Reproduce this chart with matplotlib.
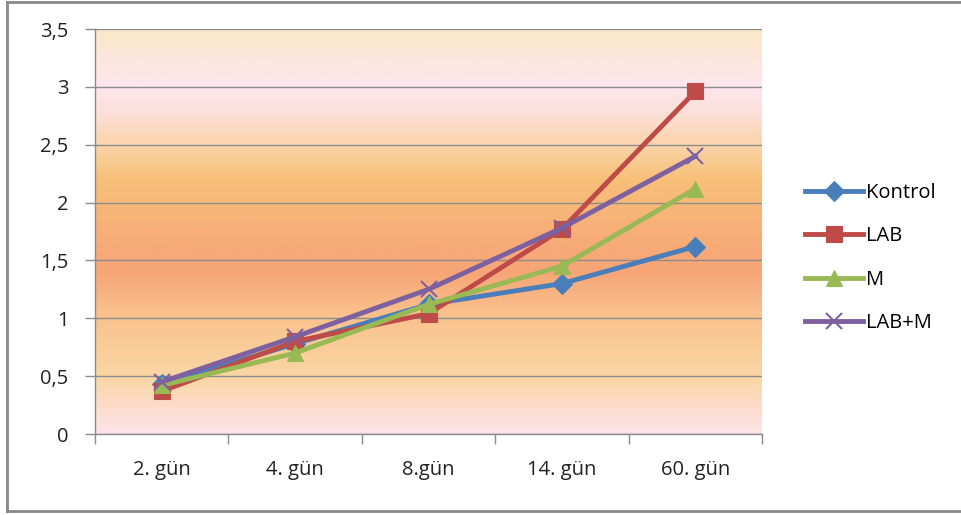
import numpy as np
import matplotlib
matplotlib.use('agg')
import matplotlib.pyplot as plt
from matplotlib.colors import LinearSegmentedColormap
from matplotlib.ticker import FuncFormatter, FixedLocator
from matplotlib.lines import Line2D

plt.rcParams['font.family'] = ['Open Sans', 'DejaVu Sans']
plt.rcParams['font.size'] = 14.5

days = ['2. gün', '4. gün', '8.gün', '14. gün', '60. gün']
kontrol = [0.43, 0.78, 1.12, 1.30, 1.62]
lab = [0.37, 0.80, 1.04, 1.77, 2.96]
m = [0.42, 0.70, 1.12, 1.45, 2.12]
lab_m = [0.45, 0.84, 1.25, 1.78, 2.40]

series = [
    ('Kontrol', kontrol, '#4A7EBB', 'D', 10),
    ('LAB', lab, '#BE4B48', 's', 12),
    ('M', m, '#98B954', '^', 12),
    ('LAB+M', lab_m, '#7D60A0', 'x', 12),
]

fig = plt.figure(figsize=(9.61, 5.15), dpi=100)
ax = fig.add_axes([95 / 961, 81 / 515, 667 / 961, 405 / 515])

# plot area gradient, bottom -> top
stops = [
    (0.00, '#FDE4E8'),
    (0.07, '#FCDCC8'),
    (0.14, '#FAD6A4'),
    (0.30, '#F9C08C'),
    (0.40, '#F7A577'),
    (0.50, '#F7AE78'),
    (0.63, '#F8C078'),
    (0.71, '#FAD3A8'),
    (0.80, '#FCE0DC'),
    (0.86, '#FDE6EE'),
    (0.93, '#FCE6DC'),
    (1.00, '#FBE8C8'),
]
cmap = LinearSegmentedColormap.from_list('bg', stops)
grad = np.linspace(0, 1, 256).reshape(-1, 1)
ax.imshow(grad, cmap=cmap, origin='lower', aspect='auto',
          extent=[-0.5, 4.5, 0, 3.5], zorder=0)

x = np.arange(len(days))
for name, vals, col, mk, ms in series:
    ax.plot(x, vals, color=col, lw=3.5, marker=mk, markersize=ms,
            markeredgewidth=1.5 if mk == 'x' else 0.8, markeredgecolor=col,
            label=name, zorder=3)

ax.set_xlim(-0.5, 4.5)
ax.set_ylim(0, 3.5)
ax.set_yticks(np.arange(0, 3.51, 0.5))
ax.yaxis.set_major_formatter(FuncFormatter(lambda v, p: ('%g' % v).replace('.', ',')))
ax.yaxis.grid(True, color='#8C8C8C', lw=1)
ax.set_axisbelow(False)
for gl in ax.get_ygridlines():
    gl.set_zorder(1)

ax.set_xticks(x)
ax.set_xticklabels(days)
ax.xaxis.set_minor_locator(FixedLocator(np.arange(-0.5, 4.6, 1)))
ax.tick_params(axis='x', which='major', length=0, pad=19, colors='#222222')
ax.tick_params(axis='x', which='minor', length=7, color='#8C8C8C', width=1)
ax.tick_params(axis='y', length=7, color='#8C8C8C', width=1, pad=12,
               labelcolor='#222222')

for s in ['top', 'right']:
    ax.spines[s].set_visible(False)
for s in ['left', 'bottom']:
    ax.spines[s].set_color('#8C8C8C')
    ax.spines[s].set_linewidth(1)

leg = ax.legend(loc='center left', bbox_to_anchor=(797 / 961, 1 - 258 / 515),
                bbox_transform=fig.transFigure, frameon=False,
                handlelength=2.9, handletextpad=0.15, labelspacing=1.15,
                borderaxespad=0)

# outer chart border
fig.add_artist(Line2D([7 / 961, 7 / 961], [1 - 511 / 515, 1 - 2 / 515],
                      color='#888888', lw=2, transform=fig.transFigure))
fig.add_artist(Line2D([7 / 961, 1], [1 - 2 / 515, 1 - 2 / 515],
                      color='#888888', lw=2, transform=fig.transFigure))
fig.add_artist(Line2D([7 / 961, 1], [1 - 511 / 515, 1 - 511 / 515],
                      color='#888888', lw=2, transform=fig.transFigure))

plt.savefig('out.png', dpi=100)
